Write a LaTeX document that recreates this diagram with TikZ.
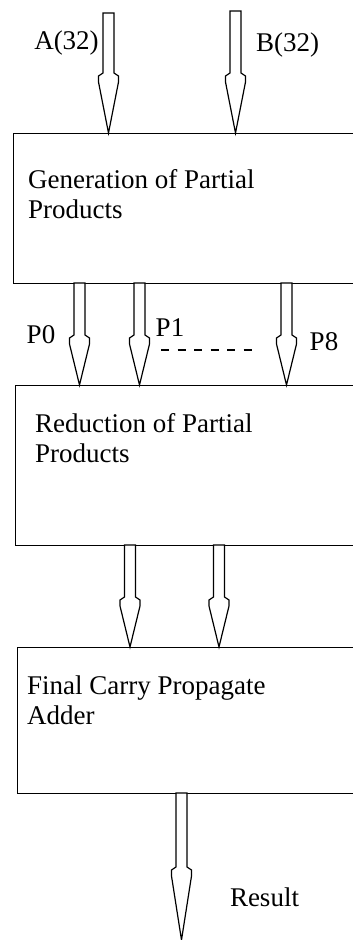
\documentclass[tikz,border=0pt]{standalone}
\usepackage{fontspec}
\setmainfont{Liberation Serif}
\usetikzlibrary{calc}
\tikzset{
  box/.style={draw, line width=1.3pt, rectangle, anchor=north west, inner sep=0pt},
  barrow/.style={draw, line width=1.2pt, fill=white, line join=miter},
  lbl/.style={inner sep=0pt, font=\fontsize{27}{30}\selectfont},
  boxtext/.style={inner sep=0pt, anchor=west, align=left, font=\fontsize{27}{30}\selectfont},
}
\newcommand{\blockarrow}[3]{%
  \draw[barrow] let \p1=(#1), \p2=(#2) in
  (\x1-5.5pt,\y1) -- (\x1-5.5pt,\y2+#3) -- (\x1-10pt,\y2+#3-3pt) -- (\x1-10pt,\y2+#3-9pt)
  -- (\x1,\y2) -- (\x1+10pt,\y2+#3-9pt) -- (\x1+10pt,\y2+#3-3pt) -- (\x1+5.5pt,\y2+#3)
  -- (\x1+5.5pt,\y1) -- cycle;}
\begin{document}
\begin{tikzpicture}[x=1pt,y=1pt]
\useasboundingbox (0,0) rectangle (353,940);
\clip (0,0) rectangle (353,940);
\fill[white] (0,0) rectangle (353,940);
% boxes (right edges run off the picture)
\node[box, minimum width=360pt, minimum height=150pt] (gen) at (13,807) {};
\node[box, minimum width=360pt, minimum height=160pt] (red) at (15,555) {};
\node[box, minimum width=360pt, minimum height=146pt] (fca) at (17,293) {};
% box texts
\node[boxtext] (gent) at (28,746) {Generation of Partial\\Products};
\node[boxtext] (redt) at (35,502) {Reduction of Partial\\Products};
\node[boxtext] (fcat) at (27,240) {Final Carry Propagate\\Adder};
% arrow start coordinates
\coordinate (ain) at (108.5,927);
\coordinate (bin) at (235.5,929);
\coordinate (p0) at (79.5,657);
\coordinate (p1) at (139.5,657);
\coordinate (p8) at (286.5,657);
\coordinate (r1) at (130,395);
\coordinate (r2) at (219,395);
\coordinate (res) at (181.5,147);
\coordinate (resend) at (181.5,0);
% arrows
\blockarrow{ain}{ain |- gen.north}{60pt}
\blockarrow{bin}{bin |- gen.north}{60pt}
\blockarrow{p0}{p0 |- red.north}{50pt}
\blockarrow{p1}{p1 |- red.north}{50pt}
\blockarrow{p8}{p8 |- red.north}{50pt}
\blockarrow{r1}{r1 |- fca.north}{50pt}
\blockarrow{r2}{r2 |- fca.north}{50pt}
\blockarrow{res}{resend}{73pt}
% labels
\node[lbl] (la) at (66.5,897) {A(32)};
\node[lbl] (lb) at (287.5,895) {B(32)};
\node[lbl] (lp0) at (41,605) {P0};
\node[lbl] (lp1) at (170,612) {P1};
\node[lbl] (lp8) at (324,598) {P8};
\node[lbl] (lres) at (264.5,43) {Result};
\coordinate (d1) at (161,590);
\coordinate (d2) at (259,590);
\draw[line width=1.2pt, dash pattern=on 8pt off 8.5pt] (d1) -- (d2);
\end{tikzpicture}
\end{document}
